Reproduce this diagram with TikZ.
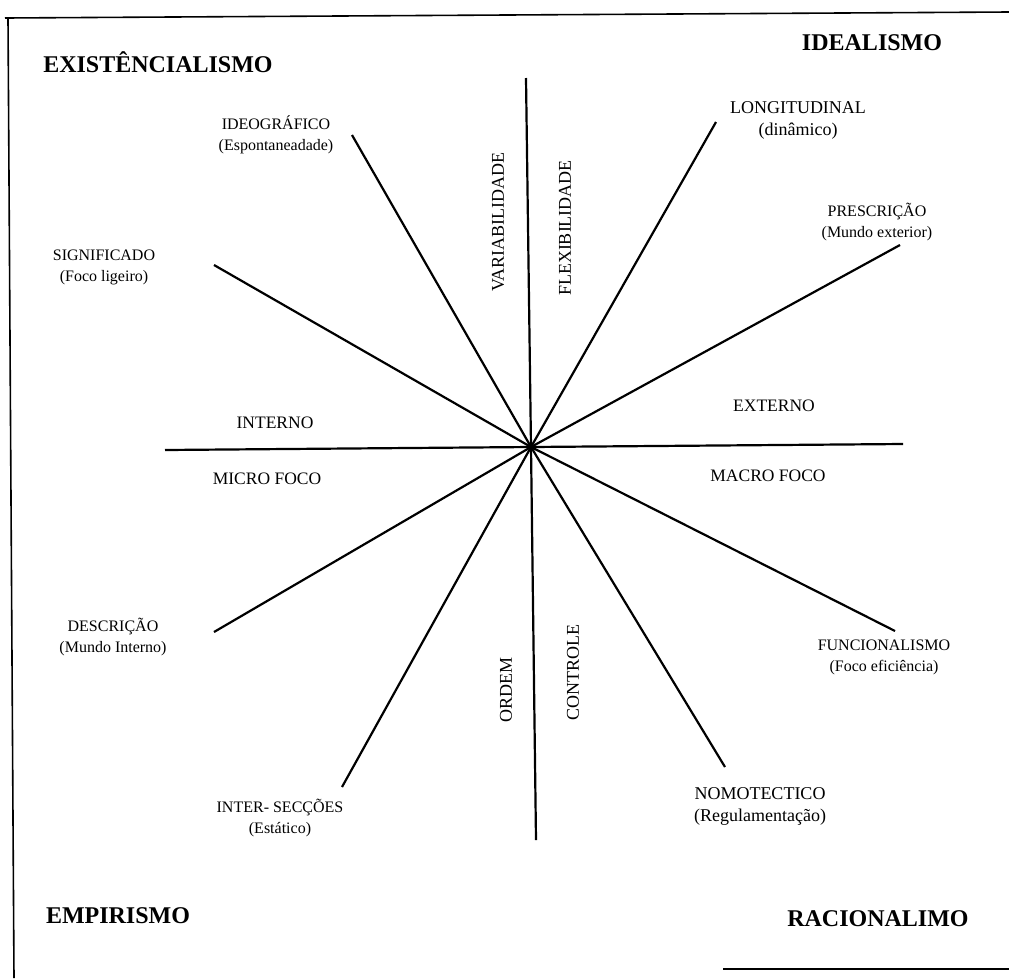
\documentclass[tikz,border=0pt]{standalone}
\usepackage{fontspec}
\setmainfont{Liberation Serif}
\begin{document}
\begin{tikzpicture}[x=1pt,y=-1pt,
  spoke/.style={line width=2.2pt},
  frameline/.style={line width=1.6pt},
  school/.style={font=\bfseries\fontsize{24}{26}\selectfont},
  lbl/.style={font=\fontsize{16}{21}\selectfont, align=center},
  biglbl/.style={font=\fontsize{18}{22}\selectfont, align=center},
  axislbl/.style={font=\fontsize{17.5}{20}\selectfont},
  vlbl/.style={font=\fontsize{18}{20}\selectfont, rotate=90}]
\useasboundingbox (0,0) rectangle (1009,978);

% partial frame around the chart
\draw[frameline] (5,18) -- (1009,12);
\draw[frameline] (8,18) -- (14,978);
\draw[frameline] (723,969) -- (1009,969);

% centre and spoke ends
\coordinate (c) at (531,447);
\coordinate (top) at (526,78);
\coordinate (bot) at (536,840);
\coordinate (lft) at (165,450);
\coordinate (rgt) at (903,444);
\coordinate (ideo) at (352,135);
\coordinate (longi) at (716,122);
\coordinate (presc) at (900,245);
\coordinate (signif) at (214,265);
\coordinate (descr) at (214,632);
\coordinate (inter) at (342,787);
\coordinate (nomo) at (725,767);
\coordinate (func) at (895,631);

\foreach \e in {top,bot,lft,rgt,ideo,longi,presc,signif,descr,inter,nomo,func}
  \draw[spoke] (c) -- (\e);

% corner schools
\node[school] (exist) at (158,62) {EXISTÊNCIALISMO};
\node[school] (ideal) at (872,43) {IDEALISMO};
\node[school] (empir) at (118,916) {EMPIRISMO};
\node[school] (racio) at (878,919) {RACIONALIMO};

% spoke labels
\node[lbl] (tideo) at (276,135) {IDEOGRÁFICO\\(Espontaneadade)};
\node[biglbl] (tlong) at (798,120) {LONGITUDINAL\\(dinâmico)};
\node[lbl] (tpresc) at (877,222) {PRESCRIÇÃO\\(Mundo exterior)};
\node[lbl] (tsignif) at (104,267) {SIGNIFICADO\\(Foco ligeiro)};
\node[lbl] (tdescr) at (113,637) {DESCRIÇÃO\\(Mundo Interno)};
\node[lbl] (tfunc) at (884,657) {FUNCIONALISMO\\(Foco eficiência)};
\node[lbl] (tinter) at (280,818) {INTER- SECÇÕES\\(Estático)};
\node[biglbl] (tnomo) at (760,806) {NOMOTECTICO\\(Regulamentação)};

% axis labels
\node[axislbl] (tintern) at (275,423) {INTERNO};
\node[axislbl] (tmicro) at (267,479) {MICRO FOCO};
\node[axislbl] (textern) at (774,406) {EXTERNO};
\node[axislbl] (tmacro) at (768,476) {MACRO FOCO};

\node[vlbl] (tvar) at (498,222) {VARIABILIDADE};
\node[vlbl] (tflex) at (565,228) {FLEXIBILIDADE};
\node[vlbl] (tord) at (506,690) {ORDEM};
\node[vlbl] (tctrl) at (573,672) {CONTROLE};
\end{tikzpicture}
\end{document}
